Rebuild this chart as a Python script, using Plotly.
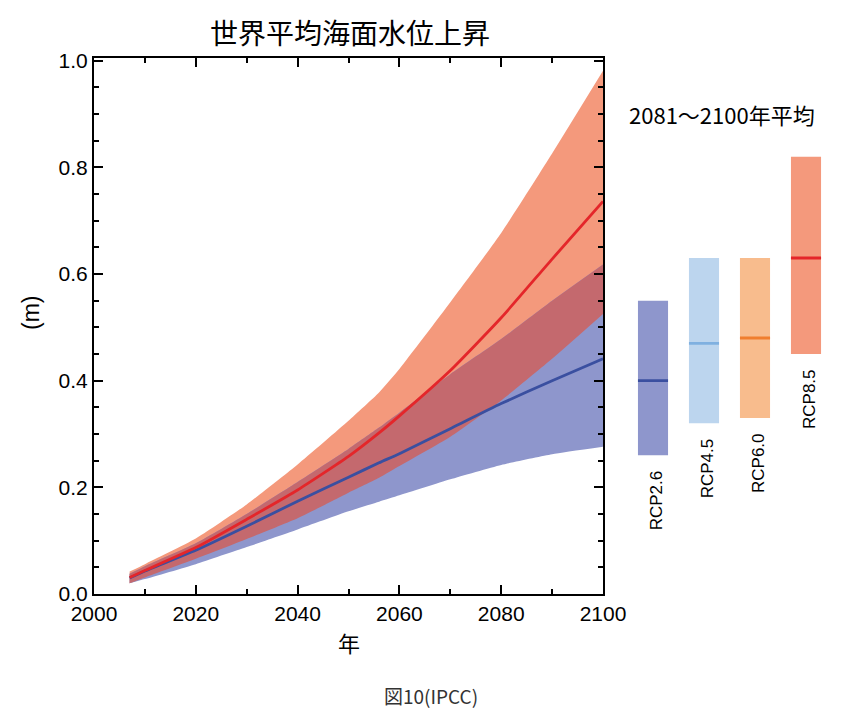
import plotly.graph_objects as go

# ---- time series data ----
years = [2007, 2010, 2020, 2030, 2040, 2050, 2056, 2060, 2070, 2080, 2090, 2100]
rcp85_mean = [0.031, 0.044, 0.087, 0.140, 0.195, 0.258, 0.302, 0.334, 0.419, 0.518, 0.628, 0.736]
rcp85_high = [0.042, 0.056, 0.104, 0.168, 0.243, 0.325, 0.378, 0.422, 0.547, 0.677, 0.826, 0.981]
rcp85_low = [0.020, 0.031, 0.066, 0.103, 0.142, 0.190, 0.218, 0.240, 0.295, 0.363, 0.441, 0.525]
rcp26_mean = [0.030, 0.043, 0.082, 0.127, 0.174, 0.219, 0.246, 0.263, 0.310, 0.357, 0.400, 0.441]
rcp26_high = [0.038, 0.052, 0.095, 0.150, 0.210, 0.272, 0.312, 0.340, 0.412, 0.478, 0.550, 0.618]
rcp26_low = [0.020, 0.028, 0.056, 0.088, 0.121, 0.155, 0.173, 0.185, 0.215, 0.242, 0.262, 0.276]

# ---- 2081-2100 averages ----
scenarios = ["RCP2.6", "RCP4.5", "RCP6.0", "RCP8.5"]
avg_low = [0.26, 0.32, 0.33, 0.45]
avg_high = [0.55, 0.63, 0.63, 0.82]
avg_mean = [0.40, 0.47, 0.48, 0.63]

# ---- text ----
title_text = "世界平均海面水位上昇"
panel_title = "2081～2100年平均"
x_title = "年"
y_title = "(m)"
caption = "図10(IPCC)"

# ---- styles ----
c_red_band = "#F4997C"
c_blue_band = "#8E96CC"
c_overlap = "#C4696E"
c_red_line = "#E4262A"
c_blue_line = "#3A4FA0"
bar_colors = ["#8E96CC", "#BCD5EE", "#F8BC8D", "#F4997C"]
median_colors = ["#3A4FA0", "#7FB0E0", "#F07E2E", "#E4262A"]

W, H = 854, 715
OFF = 8  # page body margin
ML, MR, MT, MB = 50, 10, 10, 80
PW, PH = W - ML - MR, H - MT - MB
def px(x):
    return (x - OFF - ML) / PW
def py(y):
    return 1 - (y - OFF - MT) / PH

SMOOTH = 0.5
fig = go.Figure()

def band(low, high, color):
    fig.add_trace(go.Scatter(x=years, y=low, mode="lines",
                             line=dict(width=0, color=color, shape="spline", smoothing=SMOOTH),
                             hoverinfo="skip", showlegend=False))
    fig.add_trace(go.Scatter(x=years, y=high, mode="lines", fill="tonexty", fillcolor=color,
                             line=dict(width=0, color=color, shape="spline", smoothing=SMOOTH),
                             hoverinfo="skip", showlegend=False))

band(rcp85_low, rcp85_high, c_red_band)
band(rcp26_low, rcp26_high, c_blue_band)
ov_low = [max(a, b) for a, b in zip(rcp85_low, rcp26_low)]
ov_high = [min(a, b) for a, b in zip(rcp85_high, rcp26_high)]
band(ov_low, ov_high, c_overlap)

fig.add_trace(go.Scatter(x=years, y=rcp26_mean, mode="lines",
                         line=dict(color=c_blue_line, width=2.8, shape="spline", smoothing=SMOOTH),
                         showlegend=False))
fig.add_trace(go.Scatter(x=years, y=rcp85_mean, mode="lines",
                         line=dict(color=c_red_line, width=2.8, shape="spline", smoothing=SMOOTH),
                         showlegend=False))

# right panel bars
bar_w = 0.59
idx = list(range(len(scenarios)))
fig.add_trace(go.Bar(x=idx, y=[h - l for h, l in zip(avg_high, avg_low)], base=avg_low,
                     width=bar_w, marker=dict(color=bar_colors, line=dict(width=0)),
                     showlegend=False, xaxis="x2", yaxis="y2", hoverinfo="skip"))
for i, m in enumerate(avg_mean):
    fig.add_trace(go.Scatter(x=[i - bar_w / 2, i + bar_w / 2], y=[m, m], mode="lines",
                             line=dict(color=median_colors[i], width=2.8),
                             showlegend=False, xaxis="x2", yaxis="y2", hoverinfo="skip"))
    fig.add_annotation(x=i, y=avg_low[i], xref="x2", yref="y2", text=scenarios[i],
                       textangle=-90, showarrow=False, xanchor="center", yanchor="top",
                       xshift=3, yshift=-13,
                       font=dict(size=17, color="black", family="Liberation Sans, Arial"))

axis_common = dict(showline=True, linewidth=2.2, linecolor="black", mirror="ticks",
                   ticks="inside", tickwidth=2.2, tickcolor="black", ticklen=9,
                   showgrid=False, zeroline=False, automargin=False,
                   tickfont=dict(size=21, color="black", family="Liberation Sans, Arial"))

fig.update_layout(
    width=W, height=H, margin=dict(l=ML, r=MR, t=MT, b=MB, autoexpand=False),
    paper_bgcolor="white", plot_bgcolor="rgba(0,0,0,0)",
    xaxis=dict(domain=[px(94), px(603)], range=[2000, 2100], dtick=20, tick0=2000,
               minor=dict(dtick=10, ticks="inside", ticklen=5, tickwidth=2.2, tickcolor="black"),
               anchor="y", **axis_common),
    yaxis=dict(domain=[py(594), py(58)], range=[0, 1.005], dtick=0.2, tickformat=".1f",
               minor=dict(dtick=0.05, ticks="inside", ticklen=5, tickwidth=2.2, tickcolor="black"),
               anchor="x", **axis_common),
    xaxis2=dict(domain=[px(627.5), px(831.5)], range=[-0.5, 3.5], visible=False, anchor="y2"),
    yaxis2=dict(domain=[py(594), py(58)], range=[0, 1.005], visible=False, anchor="x2"),
    font=dict(family="Noto Sans CJK JP", color="black"),
)

def label(x, y, text, size, family="Noto Sans CJK JP", color="black", angle=0):
    fig.add_annotation(x=px(x), y=py(y), xref="paper", yref="paper", text=text,
                       xanchor="center", yanchor="middle", textangle=angle,
                       showarrow=False, font=dict(size=size, family=family, color=color))

label(350, 32, title_text, 28)
label(722, 114, panel_title, 22)
label(349, 642, x_title, 22)
label(31, 313, y_title, 23, family="Liberation Sans, Arial", angle=-90)
label(431, 695, caption, 19, color="#333333")

fig.write_html("out.html")
